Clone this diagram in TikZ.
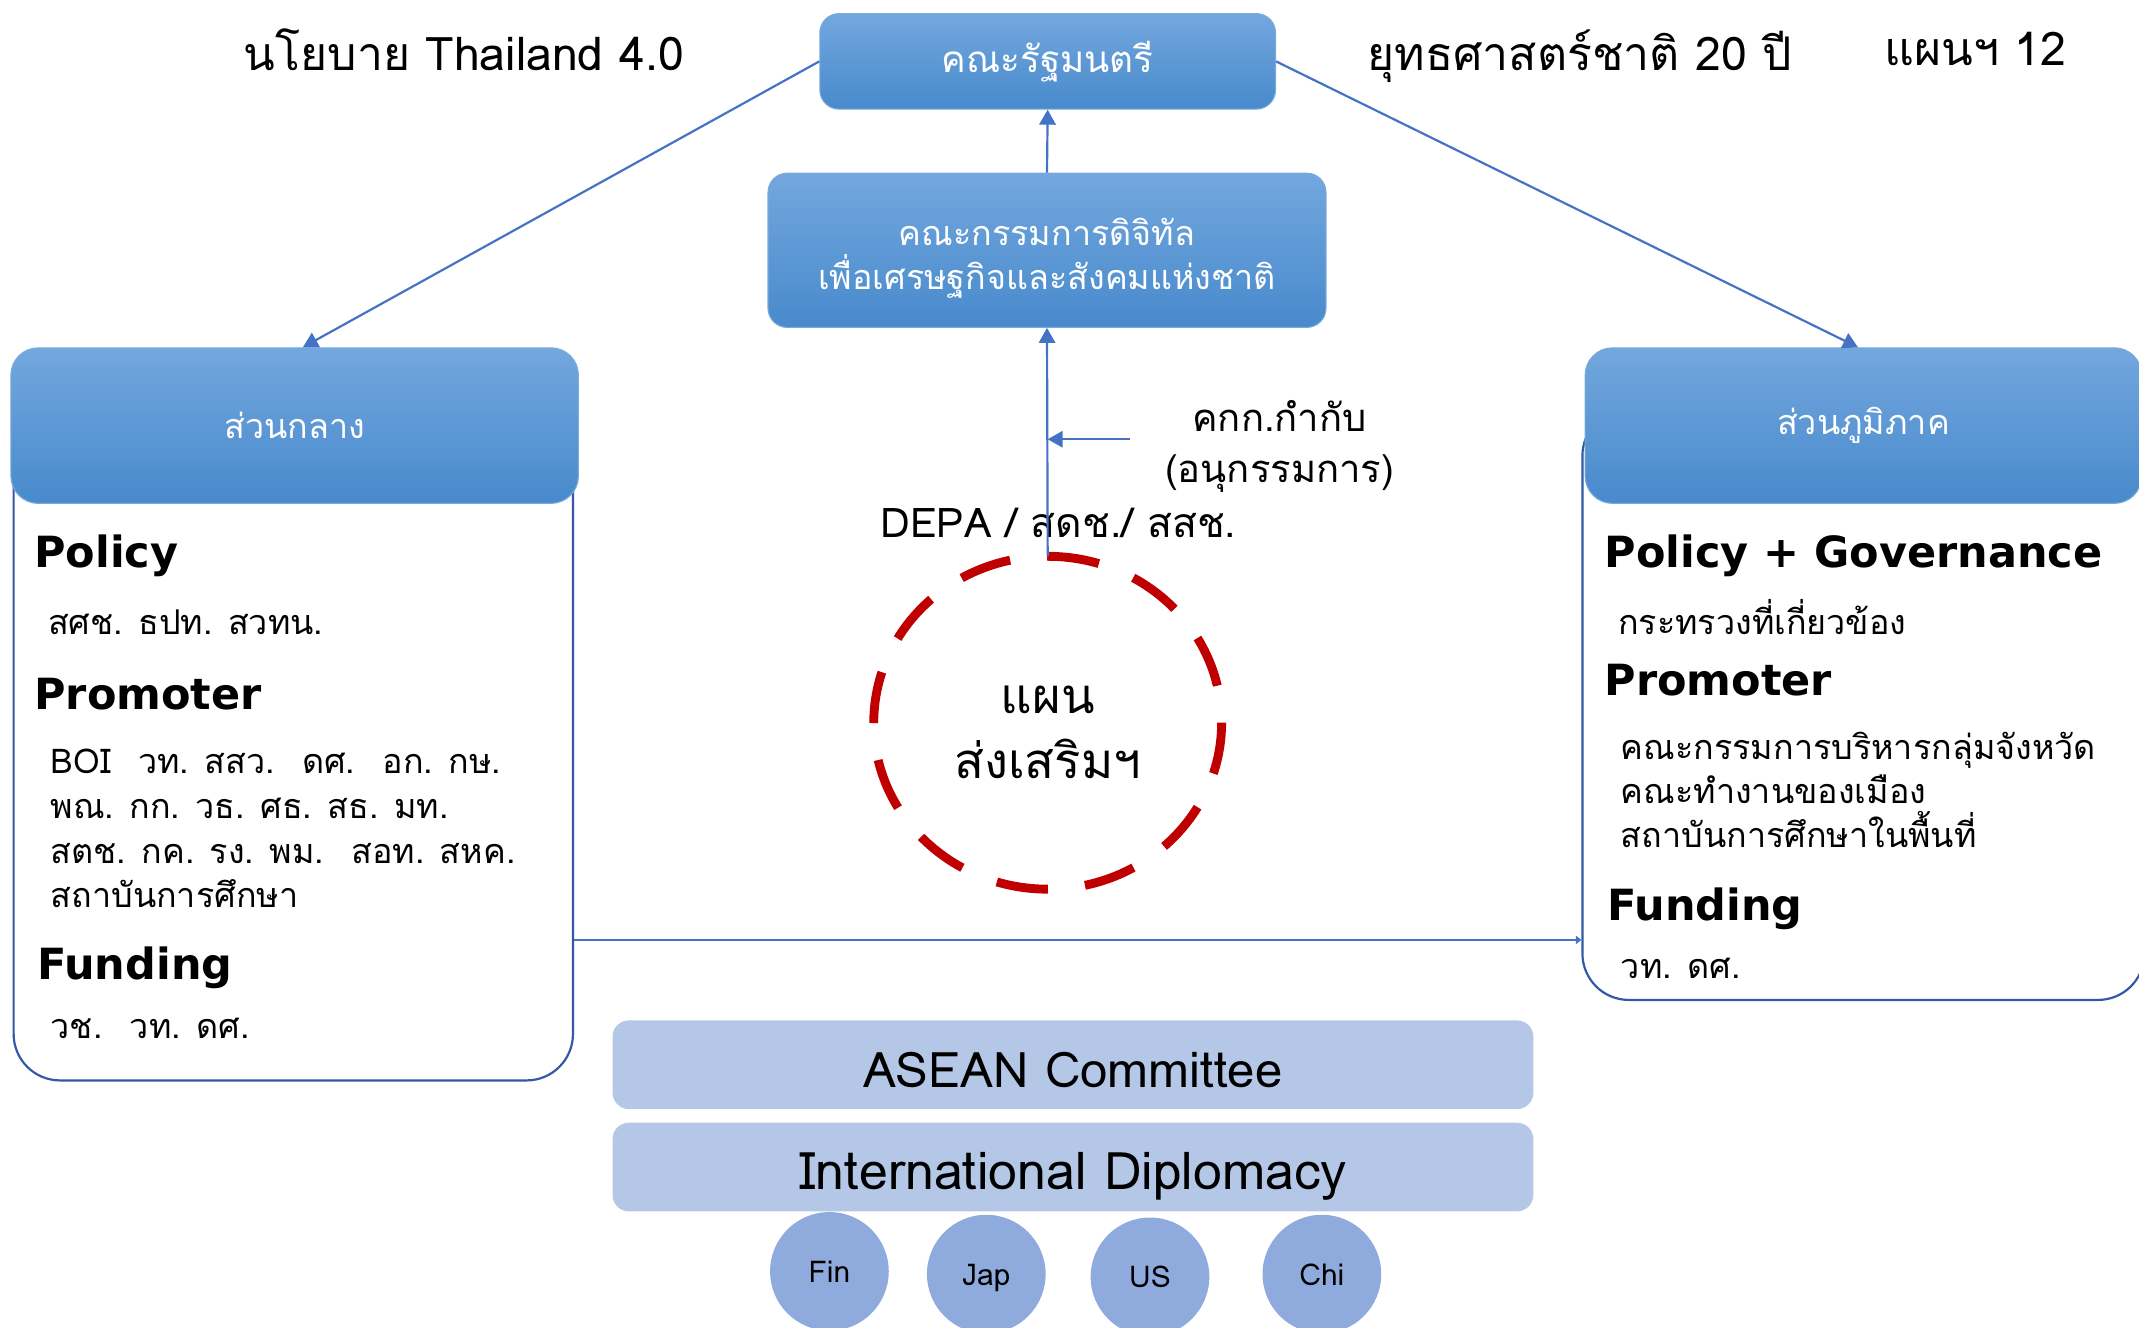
\documentclass[tikz,border=0pt]{standalone}
\usepackage{fontspec}
\setmainfont[Script=Thai]{Loma}
\newfontfamily\headfont{DejaVu Sans}
\usetikzlibrary{arrows.meta,shapes.geometric}

\definecolor{hdtop}{RGB}{115,167,222}
\definecolor{hdbot}{RGB}{72,138,204}
\definecolor{hdedge}{RGB}{120,170,220}
\definecolor{bodyedge}{RGB}{52,88,168}
\definecolor{linkblue}{RGB}{68,114,196}
\definecolor{ribbonfill}{RGB}{180,199,231}
\definecolor{countryfill}{RGB}{143,170,220}
\definecolor{planred}{RGB}{192,0,0}

\newcommand{\wgap}{\hspace{20pt}}

\begin{document}
\begin{tikzpicture}[x=1pt,y=-1pt,line join=round,
  hdbox/.style={rounded corners=14pt, top color=hdtop, bottom color=hdbot, draw=hdedge, line width=0.8pt, text=white, inner sep=0pt, align=center},
  bodybox/.style={rounded corners=34pt, draw=bodyedge, line width=1.6pt, fill=white, inner sep=0pt},
  ribbon/.style={rounded corners=12pt, fill=ribbonfill, inner sep=0pt, text height=33pt, text depth=0pt},
  country/.style={circle, fill=countryfill, minimum size=87pt, inner sep=0pt, text height=16pt, text depth=0pt, font=\fontsize{22}{24}\selectfont},
  bluearrow/.style={draw=linkblue, line width=1.6pt, -{Triangle[length=11pt,width=12pt]}},
  headtxt/.style={anchor=base west, inner sep=0pt, font=\headfont\bfseries\fontsize{31.5}{36}\selectfont},
  itemtxt/.style={anchor=base west, inner sep=0pt, font=\fontsize{25}{30}\selectfont},
  toptxt/.style={anchor=base, inner sep=0pt, font=\fontsize{34}{40}\selectfont},
]

\useasboundingbox (0,0) rectangle (1568,973);
\clip (0,0) rectangle (1568,973);

% titles
\node[toptxt] (policy) at (340,52) {นโยบาย Thailand 4.0};
\node[toptxt] (strategy) at (1158,52) {ยุทธศาสตร์ชาติ 20 ปี};
\node[toptxt] (plan12) at (1448,48) {แผนฯ 12};

% centre column
\node[hdbox, minimum width=334pt, minimum height=70pt, font=\fontsize{27}{32}\selectfont] (cab) at (768,45) {คณะรัฐมนตรี};
\node[hdbox, minimum width=409pt, minimum height=113pt] (dcouncil) at (767.5,183.5) {};
\node[anchor=base, inner sep=0pt, text=white, font=\fontsize{25}{32}\selectfont] (dcline1) at (767.5,180) {คณะกรรมการดิจิทัล};
\node[anchor=base, inner sep=0pt, text=white, font=\fontsize{25}{32}\selectfont] (dcline2) at (767.5,212) {เพื่อเศรษฐกิจและสังคมแห่งชาติ};

\node[ellipse, minimum width=255pt, minimum height=244pt, inner sep=0pt] (plan) at (768,530) {};
\draw[planred, line width=6.5pt, dash pattern=on 38pt off 27.3pt] (plan.north) arc[start angle=-90, end angle=270, x radius=127.5, y radius=122];
\node[anchor=base, inner sep=0pt, font=\fontsize{36}{40}\selectfont] (planline1) at (768,523) {แผน};
\node[anchor=base, inner sep=0pt, font=\fontsize{36}{40}\selectfont] (planline2) at (768,571) {ส่งเสริมฯ};

\node[anchor=base, inner sep=0pt, font=\fontsize{28}{34}\selectfont] (subcom1) at (938,316) {คกก.กำกับ};
\node[anchor=base, inner sep=0pt, font=\fontsize{28}{34}\selectfont] (subcom2) at (938,354) {(อนุกรรมการ)};
\node[anchor=base, inner sep=0pt, font=\fontsize{30}{34}\selectfont] (depa) at (776,394) {DEPA / สดช./ สสช.};
\coordinate (subtail) at (828,322);

% left and right columns
\node[bodybox, minimum width=410pt, minimum height=492pt] (centralbody) at (215,546) {};
\node[bodybox, minimum width=412pt, minimum height=433pt] (regionalbody) at (1366,516.5) {};
\node[hdbox, rounded corners=20pt, minimum width=416pt, minimum height=114pt, font=\fontsize{25}{28}\selectfont] (central) at (216,312) {ส่วนกลาง};
\node[hdbox, rounded corners=20pt, minimum width=408pt, minimum height=114pt, font=\fontsize{25}{28}\selectfont] (regional) at (1366,312) {ส่วนภูมิภาค};

\node[headtxt] (cpol) at (25,416) {Policy};
\node[itemtxt] (cpol1) at (35,465) {สศช. ธปท. สวทน.};
\node[headtxt] (cpro) at (25,520) {Promoter};
\node[itemtxt] (cpro1) at (37,567) {BOI\wgap วท. สสว.\wgap ดศ.\wgap อก. กษ.};
\node[itemtxt] (cpro2) at (37,600) {พณ. กก. วธ. ศธ. สธ. มท.};
\node[itemtxt] (cpro3) at (37,633) {สตช. กค. รง. พม.\wgap สอท. สหค.};
\node[itemtxt] (cpro4) at (37,665) {สถาบันการศึกษา};
\node[headtxt] (cfund) at (27,718) {Funding};
\node[itemtxt] (cfund1) at (37,761) {วช.\wgap วท. ดศ.};

\node[headtxt] (rpol) at (1176,416) {Policy + Governance};
\node[itemtxt] (rpol1) at (1186,465) {กระทรวงที่เกี่ยวข้อง};
\node[headtxt] (rpro) at (1176,510) {Promoter};
\node[itemtxt] (rpro1) at (1188,557) {คณะกรรมการบริหารกลุ่มจังหวัด};
\node[itemtxt] (rpro2) at (1188,589) {คณะทำงานของเมือง};
\node[itemtxt] (rpro3) at (1188,621) {สถาบันการศึกษาในพื้นที่};
\node[headtxt] (rfund) at (1178,675) {Funding};
\node[itemtxt] (rfund1) at (1188,717) {วท. ดศ.};

% international
\node[ribbon, minimum width=675pt, minimum height=65pt, font=\fontsize{36}{40}\selectfont] (asean) at (786.5,780.5) {ASEAN Committee};
\node[ribbon, minimum width=675pt, minimum height=65pt, font=\fontsize{38}{40}\selectfont] (diplo) at (786.5,855.5) {International Diplomacy};
\node[country] (fin) at (608,932) {Fin};
\node[country] (jap) at (723,934) {Jap};
\node[country] (us) at (843,936) {US};
\node[country] (chi) at (969,934) {Chi};

% connectors
\draw[bluearrow] (dcouncil.north) -- (cab.south);
\draw[bluearrow] (plan.north) -- (dcouncil.south);
\draw[bluearrow] (subtail) -- (subtail -| plan.north);
\draw[bluearrow] (cab.west) -- ([xshift=6pt]central.north);
\draw[bluearrow] (cab.east) -- ([xshift=-4pt]regional.north);
\coordinate (linky) at (0,689);
\draw[draw=linkblue, line width=1.6pt, -{Triangle[length=4pt,width=6pt]}] (centralbody.east |- linky) -- (regionalbody.west |- linky);

\end{tikzpicture}
\end{document}
